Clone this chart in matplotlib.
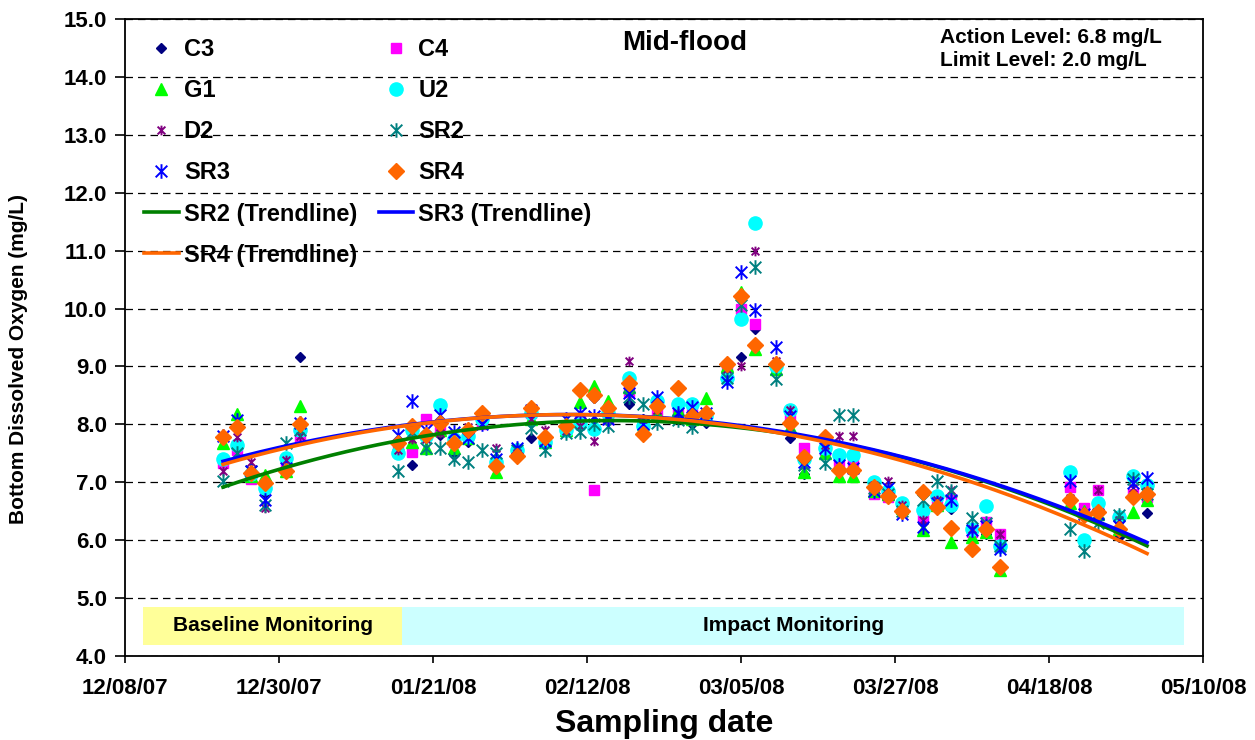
import numpy as np
import pandas as pd
import matplotlib
matplotlib.use("Agg")
import matplotlib.pyplot as plt
import matplotlib.dates as mdates
from matplotlib.patches import Rectangle
from matplotlib.path import Path

plt.rcParams['font.family'] = ['Liberation Sans', 'DejaVu Sans']
plt.rcParams['font.weight'] = 'bold'

# sampling dates (mid-flood)
sample_dates = ["2007-12-22", "2007-12-24", "2007-12-26", "2007-12-28", "2007-12-31", "2008-01-02",
                "2008-01-16", "2008-01-18", "2008-01-20", "2008-01-22", "2008-01-24", "2008-01-26",
                "2008-01-28", "2008-01-30", "2008-02-02", "2008-02-04", "2008-02-06", "2008-02-09",
                "2008-02-11", "2008-02-13", "2008-02-15", "2008-02-18", "2008-02-20", "2008-02-22",
                "2008-02-25", "2008-02-27", "2008-02-29", "2008-03-03", "2008-03-05", "2008-03-07",
                "2008-03-10", "2008-03-12", "2008-03-14", "2008-03-17", "2008-03-19", "2008-03-21",
                "2008-03-24", "2008-03-26", "2008-03-28", "2008-03-31", "2008-04-02", "2008-04-04",
                "2008-04-07", "2008-04-09", "2008-04-11", "2008-04-21", "2008-04-23", "2008-04-25",
                "2008-04-28", "2008-04-30", "2008-05-02"]

c3 = [7.75, 7.70, 7.10, 6.82, 7.30, 9.16, 7.60, 7.30, 7.85, 7.81, 7.47, 7.70, 8.10, 7.30, 7.45, 7.76, 7.80,
      7.90, 8.10, 8.45, 8.25, 8.36, 8.10, 8.20, 8.30, 8.00, 8.03, 8.80, 9.16, 9.65, 8.95, 7.76, 7.15,
      7.50, 7.20, 7.20, 6.85, 6.75, 6.50, 6.30, 6.65, 6.54, 6.10, 6.10, 5.95, 6.70, 6.40, 6.50, 6.05,
      6.75, 6.47]
c4 = [7.33, 7.55, 7.05, 6.90, 7.25, 7.76, 7.55, 7.52, 8.10, 7.90, 7.70, 7.80, 8.00, 7.35, 7.50, 8.20, 7.75,
      7.95, 8.05, 6.86, 8.10, 8.56, 8.00, 8.20, 8.20, 8.20, 8.10, 9.00, 10.00, 9.73, 9.00, 8.10, 7.60,
      7.55, 7.35, 7.35, 6.80, 6.75, 6.55, 6.40, 6.65, 6.70, 6.15, 6.31, 6.10, 6.92, 6.55, 6.86, 6.40,
      6.80, 6.75]
g1 = [7.67, 8.18, 7.10, 7.12, 7.20, 8.31, 7.65, 7.69, 7.60, 7.90, 7.60, 7.76, 8.15, 7.17, 7.60, 8.10, 7.70,
      7.90, 8.38, 8.67, 8.41, 8.65, 8.00, 8.20, 8.25, 8.10, 8.45, 9.00, 10.28, 9.30, 8.95, 7.95, 7.17,
      7.50, 7.10, 7.10, 6.85, 6.80, 6.55, 6.18, 6.60, 5.97, 6.05, 6.15, 5.48, 6.65, 6.50, 6.45, 6.20,
      6.48, 6.70]
u2 = [7.41, 7.65, 7.15, 6.90, 7.42, 7.90, 7.50, 7.90, 7.80, 8.33, 7.75, 7.80, 8.10, 7.35, 7.55, 8.19, 7.70,
      7.90, 8.00, 7.92, 8.20, 8.80, 7.98, 8.40, 8.36, 8.36, 8.15, 8.80, 9.82, 11.47, 9.00, 8.24, 7.40,
      7.60, 7.47, 7.47, 7.00, 6.85, 6.64, 6.52, 6.77, 6.60, 6.20, 6.59, 5.90, 7.17, 6.00, 6.64, 6.40,
      7.10, 6.95]
d2 = [7.20, 7.78, 7.35, 6.55, 7.38, 7.80, 7.55, 7.75, 7.75, 7.85, 7.70, 7.95, 8.00, 7.59, 7.50, 8.10, 7.90,
      7.88, 7.98, 7.72, 8.15, 9.09, 8.10, 8.25, 8.20, 8.15, 8.10, 8.95, 9.00, 11.00, 9.10, 8.24, 7.30,
      7.65, 7.80, 7.80, 6.95, 7.03, 6.60, 6.35, 6.70, 6.86, 6.20, 6.25, 6.10, 6.73, 6.45, 6.86, 6.35,
      6.90, 6.85]
sr2 = [7.02, 7.50, 7.20, 6.60, 7.67, 7.90, 7.20, 7.86, 7.60, 7.60, 7.40, 7.35, 7.55, 7.50, 7.55, 7.93, 7.55,
       7.85, 7.86, 8.00, 7.98, 8.47, 8.36, 8.02, 8.07, 7.95, 8.10, 8.80, 10.06, 10.71, 8.78, 7.95, 7.30,
       7.33, 8.16, 8.16, 6.90, 6.80, 6.50, 6.69, 7.03, 6.85, 6.38, 6.30, 5.90, 6.20, 5.82, 6.30, 6.43,
       7.05, 6.80]
sr3 = [7.80, 8.07, 7.20, 6.70, 7.25, 8.02, 7.81, 8.41, 7.90, 8.16, 7.86, 7.76, 8.00, 7.41, 7.59, 8.25, 7.72,
       8.10, 8.20, 8.14, 8.10, 8.55, 8.00, 8.47, 8.20, 8.30, 8.20, 8.73, 10.63, 9.97, 9.34, 8.15, 7.35,
       7.59, 7.30, 7.25, 6.85, 6.90, 6.45, 6.23, 6.65, 6.70, 6.17, 6.25, 5.85, 7.03, 6.45, 6.45, 6.25,
       6.98, 7.08]
sr4 = [7.78, 7.95, 7.16, 6.98, 7.20, 8.00, 7.67, 7.98, 7.81, 8.02, 7.67, 7.90, 8.19, 7.28, 7.45, 8.29, 7.78,
       7.98, 8.60, 8.50, 8.29, 8.71, 7.84, 8.31, 8.62, 8.14, 8.19, 9.05, 10.22, 9.37, 9.04, 8.03, 7.43,
       7.78, 7.21, 7.21, 6.92, 6.77, 6.50, 6.83, 6.57, 6.21, 5.84, 6.20, 5.54, 6.70, 6.43, 6.48, 6.20,
       6.74, 6.80]

# monitoring periods
baseline_period = ("2007-12-10 15:00", "2008-01-16 14:00")
impact_period = ("2008-01-16 14:00", "2008-05-07 07:00")

dates = pd.to_datetime(sample_dates)
xnum = mdates.date2num(dates)

# star markers like Excel's
star = Path([(0, -1), (0, 1), (-0.8, -0.8), (0.8, 0.8), (-0.8, 0.8), (0.8, -0.8)],
            [Path.MOVETO, Path.LINETO] * 3)

fig = plt.figure(figsize=(12.55, 7.4), dpi=100)
ax = fig.add_axes([0.0996, 0.1135, 0.859, 0.8608])

h = {}
h['C3'], = ax.plot(dates, c3, ls='none', marker='D', ms=5, color='#000080', mec='#000080', zorder=3)
h['C4'], = ax.plot(dates, c4, ls='none', marker='s', ms=7, color='#FF00FF', mec='#FF00FF', zorder=3)
h['G1'], = ax.plot(dates, g1, ls='none', marker='^', ms=9, color='#00FF00', mec='#00FF00', zorder=3)
h['U2'], = ax.plot(dates, u2, ls='none', marker='o', ms=9.5, color='#00FFFF', mec='#00FFFF', zorder=3)
h['D2'], = ax.plot(dates, d2, ls='none', marker=star, ms=7, mfc='none', mec='#800080', mew=1.4, zorder=3)
h['SR2'], = ax.plot(dates, sr2, ls='none', marker=star, ms=10.5, mfc='none', mec='#008080', mew=1.4, zorder=3)
h['SR3'], = ax.plot(dates, sr3, ls='none', marker=star, ms=10.5, mfc='none', mec='#0000FF', mew=1.4, zorder=3)
h['SR4'], = ax.plot(dates, sr4, ls='none', marker='D', ms=8.5, color='#FF6600', mec='#FF6600', zorder=3)

# polynomial trendlines
xs = np.linspace(xnum.min(), xnum.max(), 300)
trend_cols = {'SR2': (sr2, '#008000'), 'SR3': (sr3, '#0000FF'), 'SR4': (sr4, '#FF6600')}
for name, (vals, col) in trend_cols.items():
    coef = np.polyfit(xnum - xnum[0], vals, 2)
    h[name + 'T'], = ax.plot(mdates.num2date(xs), np.polyval(coef, xs - xnum[0]), color=col, lw=2.6, zorder=4)

# monitoring bands
for (s, e), col, lab in [(baseline_period, '#FFFF99', 'Baseline Monitoring'),
                         (impact_period, '#CCFFFF', 'Impact Monitoring')]:
    x0, x1 = mdates.date2num(pd.Timestamp(s)), mdates.date2num(pd.Timestamp(e))
    ax.add_patch(Rectangle((x0, 4.19), x1 - x0, 0.65, color=col, lw=0, zorder=1))
    ax.text((x0 + x1) / 2, 4.52, lab, ha='center', va='center', fontsize=15, fontweight='bold', zorder=2)

ax.set_ylim(4, 15)
ax.set_yticks(np.arange(4, 15.1, 1))
ax.yaxis.set_major_formatter(matplotlib.ticker.FormatStrFormatter('%.1f'))
xt = pd.date_range("2007-12-08", periods=8, freq="22D")
ax.set_xlim(xt[0], xt[-1])
ax.set_xticks(xt)
ax.xaxis.set_major_formatter(mdates.DateFormatter('%m/%d/%y'))
ax.tick_params(axis='both', labelsize=16, direction='out', width=1.2)
ax.tick_params(axis='x', length=5, pad=11)
ax.tick_params(axis='y', length=7, pad=6)
ax.yaxis.grid(True, ls=(0, (6, 4)), color='black', lw=0.9)
ax.set_axisbelow(True)
for sp in ax.spines.values():
    sp.set_linewidth(1.3)

ax.set_xlabel('Sampling date', fontsize=23, fontweight='bold')
ax.xaxis.set_label_coords(0.5, -0.106)
ax.xaxis.label.set_va('center')
ax.set_ylabel('Bottom Dissolved Oxygen (mg/L)', fontsize=15, fontweight='bold')
ax.yaxis.set_label_coords(-0.099, 0.467)
ax.yaxis.label.set_va('center')

ax.text(0.519, 0.962, 'Mid-flood', transform=ax.transAxes, ha='center', va='center', fontsize=20, fontweight='bold')
ax.text(0.756, 0.953, 'Action Level: 6.8 mg/L\nLimit Level: 2.0 mg/L', transform=ax.transAxes,
        ha='left', va='center', fontsize=15, fontweight='bold', linespacing=1.3)

order = ['C3', 'G1', 'D2', 'SR3', 'SR2T', 'SR4T', 'C4', 'U2', 'SR2', 'SR4', 'SR3T']
labels = {'SR2T': 'SR2 (Trendline)', 'SR3T': 'SR3 (Trendline)', 'SR4T': 'SR4 (Trendline)'}
ax.legend([h[k] for k in order], [labels.get(k, k) for k in order], ncol=2, loc='upper left',
          bbox_to_anchor=(0.007, 0.989), frameon=False, numpoints=1,
          handlelength=1.45, handletextpad=0.22, columnspacing=0.92, labelspacing=0.77,
          borderpad=0, prop={'weight': 'bold', 'size': 17})

fig.savefig('out.png', dpi=100)
